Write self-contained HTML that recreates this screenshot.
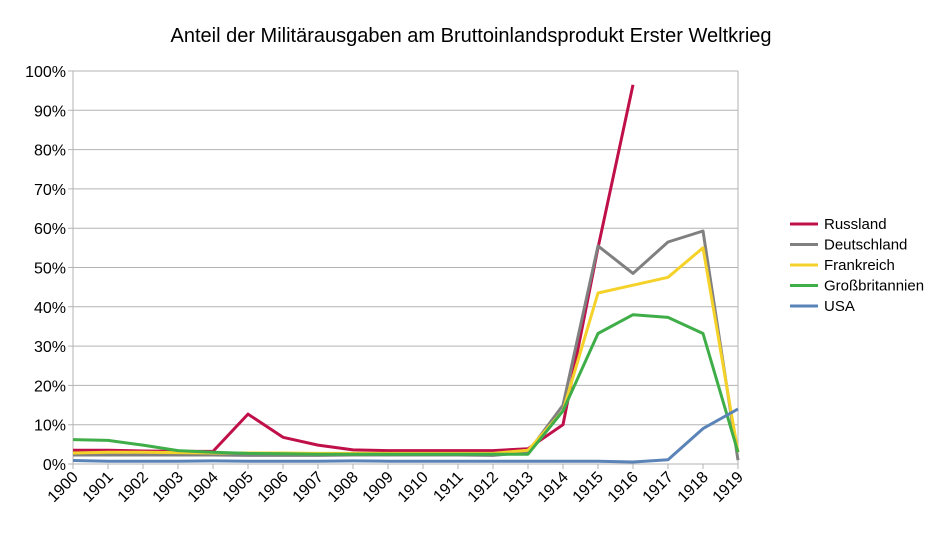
<!DOCTYPE html>
<html><head><meta charset="utf-8"><style>
body{margin:0;background:#fff;font-family:"Liberation Sans",sans-serif}
svg text{font-family:"Liberation Sans",sans-serif}
</style></head><body>
<svg id="c" width="942" height="531">
<text x="471" y="42" text-anchor="middle" font-size="20" fill="#000">Anteil der Militärausgaben am Bruttoinlandsprodukt Erster Weltkrieg</text>
<g id="grid"></g><g id="series"></g><g id="xl"></g><g id="legend"></g>
</svg>
<script>
const years=["1900","1901","1902","1903","1904","1905","1906","1907","1908","1909","1910","1911","1912","1913","1914","1915","1916","1917","1918","1919"];
const yTicks=[0,10,20,30,40,50,60,70,80,90,100];
const russland=[3.5,3.5,3.3,3.2,3.2,12.7,6.8,4.8,3.6,3.4,3.4,3.4,3.4,3.9,10,55,96.5,null,null,null];
const deutschland=[2.3,2.3,2.3,2.3,2.3,2.2,2.2,2.2,2.3,2.3,2.3,2.3,2.2,3,15,55.5,48.5,56.5,59.3,1];
const frankreich=[2.8,3.0,3.0,2.9,2.8,2.8,2.8,2.7,2.7,2.7,2.7,2.7,2.7,3.5,13.5,43.5,45.5,47.5,55,3];
const grossbritannien=[6.2,6.0,4.8,3.4,3.0,2.7,2.6,2.5,2.5,2.5,2.5,2.5,2.5,2.5,13.5,33.2,38,37.3,33.2,3];
const usa=[0.9,0.7,0.7,0.7,0.8,0.7,0.7,0.7,0.8,0.7,0.7,0.7,0.7,0.7,0.7,0.7,0.5,1.1,9,14];
const names=["Russland","Deutschland","Frankreich","Großbritannien","USA"];
const colors=["#c0104a","#808080","#f5d22a","#3fae49","#5a84b8"];
const all=[russland,deutschland,frankreich,grossbritannien,usa];
const X0=73,X1=738,Y0=464,Y1=71;
const xs=i=>X0+i*(X1-X0)/(years.length-1);
const ys=v=>Y0-v/100*(Y0-Y1);
const NS="http://www.w3.org/2000/svg";
function mk(t,p,a){const e=document.createElementNS(NS,t);for(const k in a)e.setAttribute(k,a[k]);p.appendChild(e);return e;}
const g=document.getElementById('grid');
yTicks.forEach(t=>{
 const l=mk('line',g,{x1:X0-5,x2:X1,y1:ys(t),y2:ys(t),stroke:'#b3b3b3','stroke-width':1});
 
 
 const tx=mk('text',g,{x:66,y:ys(t)+6,'text-anchor':'end','font-size':16,fill:'#000'});
 tx.textContent=t+'%';
 
 
});
mk('line',g,{x1:X0,x2:X0,y1:Y1,y2:Y0+5,stroke:'#b3b3b3'});
mk('line',g,{x1:X1,x2:X1,y1:Y1,y2:Y0,stroke:'#b3b3b3'});
const xl=document.getElementById('xl');
years.forEach((y,i)=>{
 mk('line',xl,{x1:xs(i),x2:xs(i),y1:Y0,y2:Y0+5,stroke:'#b3b3b3'});
 const t=mk('text',xl,{x:xs(i)+6,y:Y0+14,'text-anchor':'end','font-size':16,fill:'#000',transform:`rotate(-45 ${xs(i)+6} ${Y0+14})`});
 t.textContent=y;
 
 
});
const sg=document.getElementById('series');
all.forEach((s,k)=>{
 let d='';let pen=false;
 s.forEach((v,i)=>{if(v==null){pen=false;return;}d+=(pen?'L':'M')+xs(i).toFixed(1)+','+ys(v).toFixed(1);pen=true;});
 const p=mk('path',sg,{d:d,fill:'none',stroke:colors[k],'stroke-width':3,'stroke-linejoin':'round'});
 
 
});
const lg=document.getElementById('legend');
names.forEach((n,k)=>{
 const y=224+k*20.5;
 const ln=mk('line',lg,{x1:790,x2:818,y1:y,y2:y,stroke:colors[k],'stroke-width':3});
 
 
 const t=mk('text',lg,{x:824,y:y+5,'font-size':15,fill:'#000'});
 t.textContent=n;
 
 
});
</script>
</body></html>
